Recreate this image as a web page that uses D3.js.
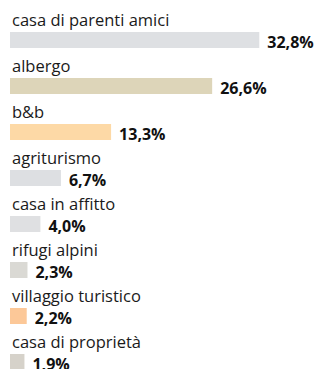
<!DOCTYPE html>
<html>
<head>
<meta charset="utf-8">
<script src="https://cdn.jsdelivr.net/npm/d3@7"></script>
<style>
  body { margin: 0; background: #fff; }
  svg { display: block; }
</style>
</head>
<body>
<svg id="chart"></svg>
<script>
// Data
const categories = ["casa di parenti amici", "albergo", "b&b", "agriturismo",
    "casa in affitto", "rifugi alpini", "villaggio turistico", "casa di proprietà"];
const values = [32.8, 26.6, 13.3, 6.7, 4.0, 2.3, 2.2, 1.9];
const colors = ["#dee0e3", "#ddd5b9", "#fdd9a6", "#dddfe2",
    "#dfe0e2", "#dad9d4", "#fcc898", "#d6d2ca"];

const width = 319, height = 369;
const svg = d3.select("svg#chart")
    .attr("width", width)
    .attr("height", height);

const data = categories.map((c, i) => ({ name: c, value: values[i], color: colors[i] }));

// Scales
const x = d3.scaleLinear()
    .domain([0, 35])
    .range([10, 10 + 266]);

const y = d3.scaleBand()
    .domain(categories)
    .range([10, 10 + 46 * categories.length])
    .padding(0);

const barH = 16;

const rows = svg.selectAll("g.row")
    .data(data)
    .enter()
    .append("g")
    .attr("class", "row")
    .attr("transform", d => `translate(0, ${y(d.name)})`);

// Category labels
rows.append("text")
    .attr("x", 12)
    .attr("y", 16)
    .attr("font-family", "Open Sans, sans-serif")
    .attr("font-size", "16.5px")
    .attr("fill", "#1a1a1a")
    .text(d => d.name);

// Bars
rows.append("rect")
    .attr("x", x(0))
    .attr("y", 22)
    .attr("width", d => x(d.value) - x(0))
    .attr("height", barH)
    .attr("fill", d => d.color);

// Value labels
rows.append("text")
    .attr("x", d => x(d.value) + 8)
    .attr("y", 22 + barH - 0.5)
    .attr("font-family", "Open Sans, sans-serif")
    .attr("font-size", "16px")
    .attr("font-weight", "bold")
    .attr("fill", "#111")
    .text(d => d.value.toFixed(1).replace(".", ",") + "%");
</script>
</body>
</html>
